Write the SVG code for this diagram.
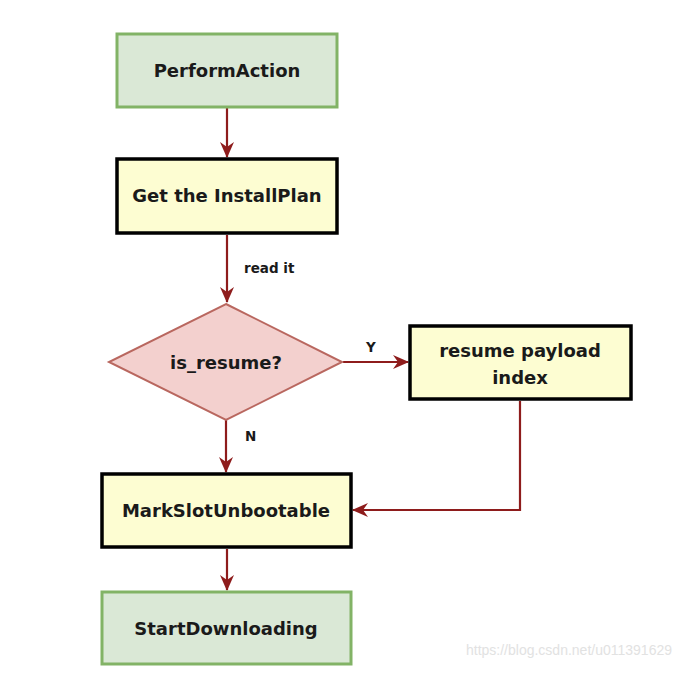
<svg xmlns="http://www.w3.org/2000/svg" width="680" height="696" viewBox="0 0 680 696">
<style>
.t{font-family:"DejaVu Sans","Liberation Sans",sans-serif;font-weight:bold;font-size:18px;fill:#1a1a1a;text-anchor:middle}
.l{font-family:"DejaVu Sans","Liberation Sans",sans-serif;font-weight:bold;font-size:13.5px;fill:#1a1a1a}
.green{fill:#dae8d6;stroke:#82b366;stroke-width:3}
.yellow{fill:#fdfdd2;stroke:#000;stroke-width:3.5}
.c{fill:none;stroke:#8e1c1c;stroke-width:2.2}
</style>
<defs>
<marker id="ah" viewBox="0 0 16 14" refX="15" refY="7" markerWidth="16" markerHeight="14" orient="auto" markerUnits="userSpaceOnUse">
<path d="M0,0 L16,7 L0,14 L5,7 Z" fill="#8e1c1c"/>
</marker>
</defs>
<rect width="680" height="696" fill="#fff"/>
<g id="connectors">
<path class="c" d="M227,108 V157" marker-end="url(#ah)"/>
<path class="c" d="M227,235 V302" marker-end="url(#ah)"/>
<path class="c" d="M343,362 H408" marker-end="url(#ah)"/>
<path class="c" d="M226,420 V472" marker-end="url(#ah)"/>
<path class="c" d="M520,401 V510 H353" marker-end="url(#ah)"/>
<path class="c" d="M227,549 V590" marker-end="url(#ah)"/>
<text class="l" x="244" y="273">read it</text>
<text class="l" x="366" y="352">Y</text>
<text class="l" x="245" y="441">N</text>
</g>
<g id="performAction">
<rect class="green" x="117" y="34" width="220" height="73"/>
<text class="t" x="227" y="77">PerformAction</text>
</g>
<g id="getInstallPlan">
<rect class="yellow" x="117" y="159" width="220" height="74"/>
<text class="t" x="227" y="202">Get the InstallPlan</text>
</g>
<g id="isResume">
<polygon points="226,304 342,362 226,420 109,362" fill="#f3d0ce" stroke="#b9675f" stroke-width="2"/>
<text class="t" x="226" y="369">is_resume?</text>
</g>
<g id="resumePayload">
<rect class="yellow" x="410" y="326" width="221" height="73"/>
<text class="t" x="520" y="357">resume payload</text>
<text class="t" x="520" y="384">index</text>
</g>
<g id="markSlot">
<rect class="yellow" x="102" y="474" width="249" height="73"/>
<text class="t" x="226" y="517">MarkSlotUnbootable</text>
</g>
<g id="startDownloading">
<rect class="green" x="102" y="592" width="249" height="72"/>
<text class="t" x="226" y="635">StartDownloading</text>
</g>
<text x="672" y="655" font-family="Liberation Sans, Arial, sans-serif" font-size="14" fill="#e2e2e2" text-anchor="end">https://blog.csdn.net/u011391629</text>
</svg>
